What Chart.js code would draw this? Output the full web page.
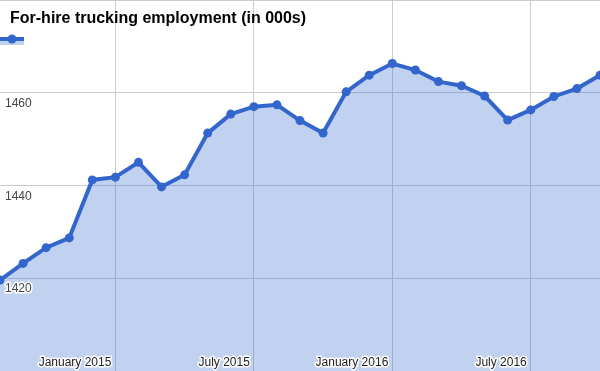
<!DOCTYPE html>
<html>
<head>
<meta charset="utf-8">
<script src="https://cdn.jsdelivr.net/npm/chart.js@4/dist/chart.umd.min.js"></script>
<style>
  html, body { margin: 0; padding: 0; background: #fff; }
  #wrap { position: relative; width: 600px; height: 371px; }
</style>
</head>
<body>
<div id="wrap"><canvas id="chart" width="600" height="371"></canvas></div>
<script>
// For-hire trucking employment (in 000s), monthly
const months = [
    '2014-08', '2014-09', '2014-10', '2014-11', '2014-12',
    '2015-01', '2015-02', '2015-03', '2015-04', '2015-05', '2015-06',
    '2015-07', '2015-08', '2015-09', '2015-10', '2015-11', '2015-12',
    '2016-01', '2016-02', '2016-03', '2016-04', '2016-05', '2016-06',
    '2016-07', '2016-08', '2016-09', '2016-10'
];
const employment = [
    1419.6, 1423.2, 1426.6, 1428.7, 1441.2,
    1441.8, 1445.0, 1439.7, 1442.3, 1451.3, 1455.4,
    1457.0, 1457.4, 1454.0, 1451.3, 1460.2, 1463.8,
    1466.3, 1464.9, 1462.4, 1461.5, 1459.3, 1454.1,
    1456.3, 1459.2, 1460.9, 1463.8
];
const xTickMonths = ['2015-01', '2015-07', '2016-01', '2016-07'];
const xTickLabels = ['January 2015', 'July 2015', 'January 2016', 'July 2016'];
const yTicks = [1400, 1420, 1440, 1460, 1480];
const chartTitle = 'For-hire trucking employment (in 000s)';

(function () {
    const blue = '#3366cc';
    const blueFill = 'rgba(51,102,204,0.3)';
    const gridColor = '#cccccc';
    const font = 'Arial, "Liberation Sans", sans-serif';

    const points = employment.map((v, i) => ({ x: i, y: v }));
    const xTickIdx = xTickMonths.map(m => months.indexOf(m));

    function haloText(ctx, str, x, y, color) {
        ctx.lineJoin = 'round';
        ctx.lineWidth = 3;
        ctx.strokeStyle = '#ffffff';
        ctx.strokeText(str, x, y);
        ctx.fillStyle = color;
        ctx.fillText(str, x, y);
    }

    // labels, title and legend sit inside the plot area, like the original
    const overlay = {
        id: 'overlay',
        afterDatasetsDraw(chart) {
            const ctx = chart.ctx;
            const xs = chart.scales.x, ys = chart.scales.y;
            ctx.save();
            ctx.font = '12px ' + font;
            ctx.textBaseline = 'alphabetic';

            ctx.textAlign = 'left';
            ys.ticks.forEach(t => {
                if (t.value <= ys.min || t.value >= ys.max) return;
                const y = ys.getPixelForValue(t.value);
                haloText(ctx, String(t.value), 5, y + 14, '#444444');
            });

            ctx.textAlign = 'right';
            xs.ticks.forEach(t => {
                const i = xTickIdx.indexOf(t.value);
                if (i < 0) return;
                const x = xs.getPixelForValue(t.value);
                haloText(ctx, xTickLabels[i], x - 4, chart.chartArea.bottom - 5, '#222222');
            });

            ctx.textAlign = 'left';
            ctx.font = 'bold 16px ' + font;
            ctx.fillStyle = '#000000';
            ctx.fillText(chartTitle, 10, 23);

            // legend swatch
            ctx.fillStyle = blueFill;
            ctx.fillRect(0, 41, 24, 4);
            ctx.strokeStyle = blue;
            ctx.lineWidth = 4;
            ctx.beginPath();
            ctx.moveTo(0, 39);
            ctx.lineTo(24, 39);
            ctx.stroke();
            ctx.fillStyle = blue;
            ctx.beginPath();
            ctx.arc(12, 39, 4.5, 0, Math.PI * 2);
            ctx.fill();
            ctx.restore();
        }
    };

    new Chart(document.getElementById('chart'), {
        type: 'line',
        data: {
            datasets: [{
                label: '',
                data: points,
                borderColor: blue,
                borderWidth: 4,
                backgroundColor: blueFill,
                fill: 'start',
                tension: 0,
                pointRadius: 4.5,
                pointBorderWidth: 0,
                pointBackgroundColor: blue
            }]
        },
        options: {
            responsive: false,
            animation: false,
            devicePixelRatio: 1,
            layout: { padding: 0, autoPadding: false },
            plugins: {
                legend: { display: false },
                title: { display: false },
                tooltip: { enabled: false }
            },
            scales: {
                x: {
                    type: 'linear',
                    min: 0,
                    max: months.length - 1,
                    afterBuildTicks: s => { s.ticks = xTickIdx.map(v => ({ value: v })); },
                    ticks: { display: false },
                    grid: { color: gridColor, drawTicks: false },
                    border: { display: false }
                },
                y: {
                    min: yTicks[0],
                    max: yTicks[yTicks.length - 1],
                    afterBuildTicks: s => { s.ticks = yTicks.map(v => ({ value: v })); },
                    ticks: { display: false },
                    grid: { color: gridColor, drawTicks: false },
                    border: { display: false }
                }
            }
        },
        plugins: [overlay]
    });
})();
</script>
</body>
</html>
